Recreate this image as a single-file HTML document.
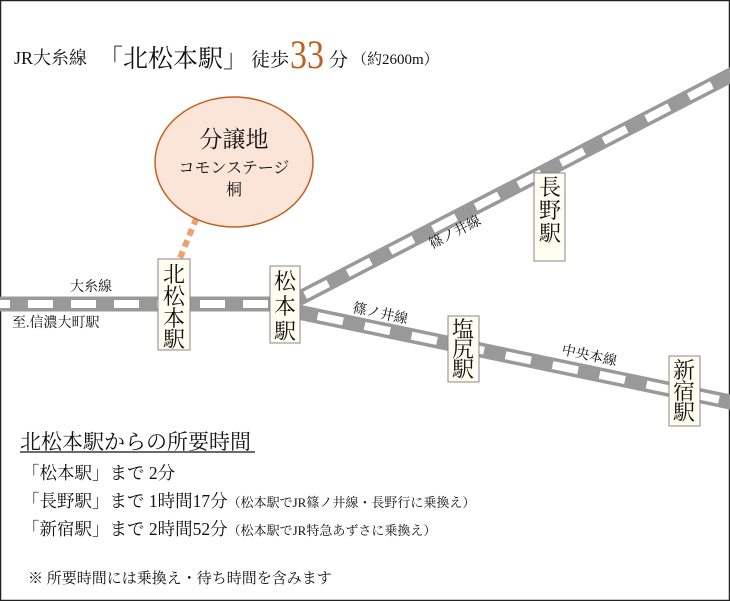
<!DOCTYPE html>
<html><head><meta charset="utf-8"><style>
body{margin:0;background:#fff}
svg{display:block}
text{font-family:"Liberation Serif","Noto Serif CJK SC","Noto Serif CJK JP",serif;fill:#111}
</style></head><body>
<svg width="730" height="601" viewBox="0 0 730 601" xmlns="http://www.w3.org/2000/svg">
<rect x="0.5" y="0.5" width="729" height="600" fill="#fff" stroke="#222" stroke-width="1.5"/>
<!-- title -->
<text x="14" y="64" font-size="18">JR大糸線</text>
<text x="98" y="67" font-size="25">「北松本駅」</text>
<text x="251" y="66" font-size="19">徒歩</text>
<text x="290" y="68" font-size="40" fill="#c0601e" style="fill:#c0601e" transform="translate(290,68) scale(0.85,1) translate(-290,-68)">33</text>
<text x="329" y="66" font-size="19">分</text>
<text x="352" y="64" font-size="15">（約2600m）</text>
<!-- tracks -->
<g fill="none">
<line x1="0" y1="304" x2="300" y2="304" stroke="#999" stroke-width="15"/>
<line x1="0" y1="304" x2="300" y2="304" stroke="#fff" stroke-width="8" stroke-dasharray="25 18" stroke-dashoffset="-28"/>
<line x1="298" y1="299" x2="735" y2="73" stroke="#999" stroke-width="15"/>
<line x1="298" y1="299" x2="735" y2="73" stroke="#fff" stroke-width="8" stroke-dasharray="26 22" stroke-dashoffset="-8"/>
<line x1="298" y1="312" x2="735" y2="403" stroke="#999" stroke-width="15"/>
<line x1="298" y1="312" x2="735" y2="403" stroke="#fff" stroke-width="8" stroke-dasharray="26 22" stroke-dashoffset="-20"/>
</g>
<!-- ellipse -->
<line x1="201" y1="207" x2="180" y2="258" stroke="#f0a070" stroke-width="6" stroke-dasharray="7 5"/>
<ellipse cx="234" cy="162" rx="79" ry="65" fill="#fbe4d8" stroke="#c4601e" stroke-width="1.5"/>
<text x="234" y="147" font-size="23" text-anchor="middle">分譲地</text>
<text x="234" y="173" font-size="16" text-anchor="middle">コモンステージ</text>
<text x="234" y="195" font-size="16" text-anchor="middle">桐</text>
<!-- station boxes -->
<g fill="#fdfdf0" stroke="#888" stroke-width="1">
<rect x="158" y="259" width="32" height="91"/>
<rect x="270" y="266" width="30" height="77"/>
<rect x="534" y="173" width="31" height="88"/>
<rect x="448" y="316" width="31" height="66"/>
<rect x="669" y="356" width="31" height="70"/>
</g>
<g font-size="22" text-anchor="middle">
<text x="174" y="282">北</text><text x="174" y="304">松</text><text x="174" y="326">本</text><text x="174" y="347">駅</text>
<text x="285" y="289">松</text><text x="285" y="314">本</text><text x="285" y="339">駅</text>
<text x="550" y="195">長</text><text x="550" y="218">野</text><text x="550" y="241">駅</text>
<text x="463" y="337">塩</text><text x="463" y="357">尻</text><text x="463" y="377">駅</text>
<text x="684" y="378">新</text><text x="684" y="399">宿</text><text x="684" y="420">駅</text>
</g>
<!-- line labels -->
<g font-size="14">
<text x="70" y="291">大糸線</text>
<text x="12" y="327">至.信濃大町駅</text>
<text x="0" y="0" transform="translate(432,249) rotate(-27)">篠ノ井線</text>
<text x="0" y="0" transform="translate(352,312) rotate(12)">篠ノ井線</text>
<text x="0" y="0" transform="translate(561,354) rotate(12)">中央本線</text>
</g>
<!-- bottom text -->
<text x="20" y="449" font-size="21">北松本駅からの所要時間</text>
<line x1="20" y1="452" x2="255" y2="452" stroke="#111" stroke-width="1.2"/>
<text x="22" y="479" font-size="17.5">「松本駅」まで  2分</text>
<text x="22" y="507" font-size="17.5">「長野駅」まで  1時間17分<tspan font-size="13">（松本駅でJR篠ノ井線・長野行に乗換え）</tspan></text>
<text x="22" y="535" font-size="17.5">「新宿駅」まで  2時間52分<tspan font-size="13">（松本駅でJR特急あずさに乗換え）</tspan></text>
<text x="28" y="583" font-size="15">※ 所要時間には乗換え・待ち時間を含みます</text>
</svg>
</body></html>
